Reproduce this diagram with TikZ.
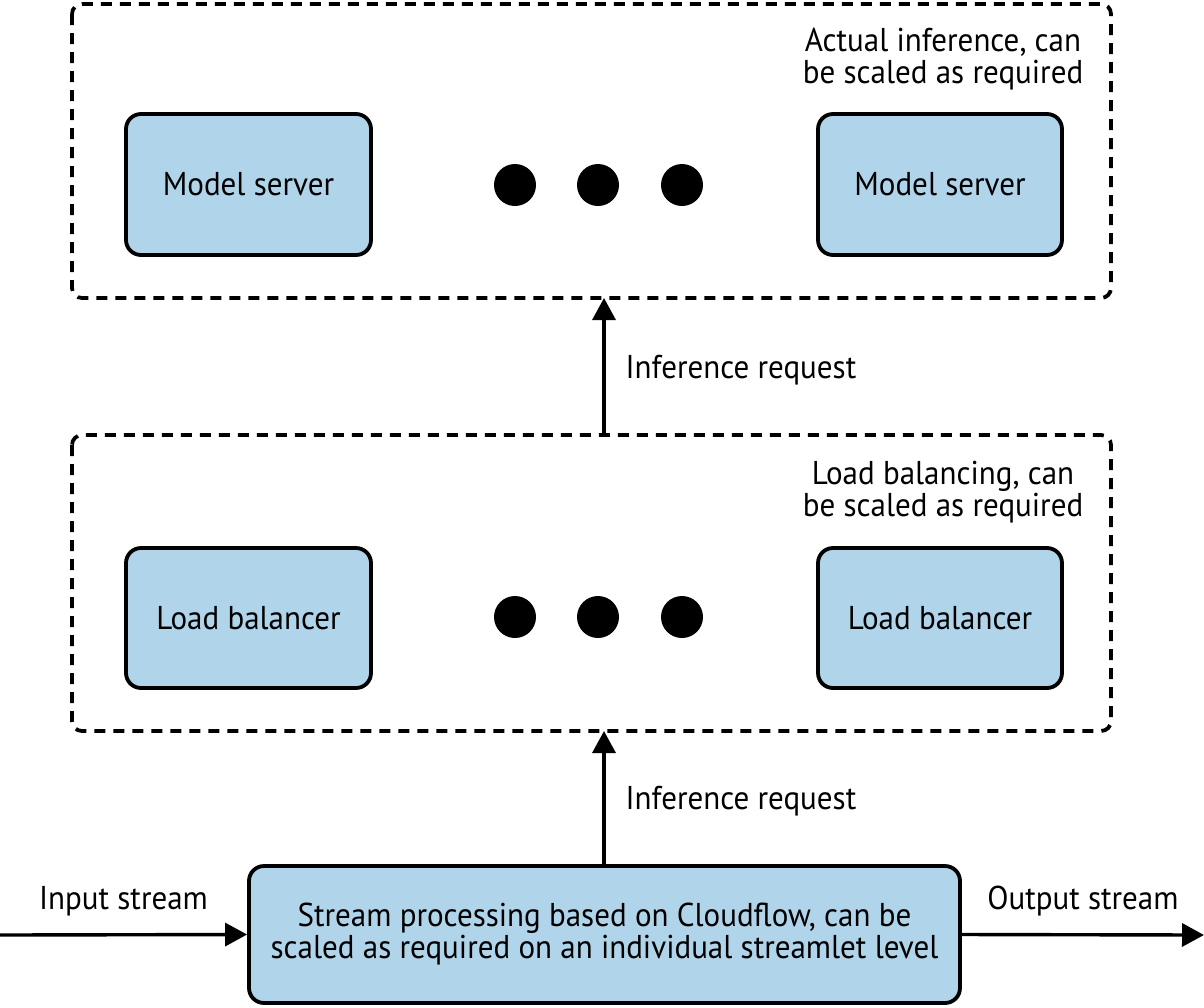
\documentclass[tikz,border=0pt]{standalone}
\usepackage{fontspec}
\setmainfont{PT Sans}[FakeStretch=0.94]
\usetikzlibrary{arrows.meta}
\definecolor{boxblue}{RGB}{176,212,234}
\begin{document}
\begin{tikzpicture}[x=1pt,y=-1pt,
  every node/.style={font=\fontsize{33}{32}\selectfont, inner sep=0pt},
  group/.style={draw, line width=3.8pt, dash pattern=on 11pt off 8pt, rounded corners=10pt},
  comp/.style={draw, line width=3.8pt, fill=boxblue, rounded corners=15pt, align=center},
  dot/.style={fill=black, circle, minimum size=42pt, inner sep=0pt},
  flow/.style={line width=3.4pt, -{Triangle[length=22pt,width=23pt]}},
  lbl/.style={align=center}
]
\path[use as bounding box] (0,0) rectangle (1204,1007);
% top group
\draw[group] (72,4) rectangle (1111,298);
\node[comp, minimum width=245pt, minimum height=141pt] (ms1) at (248.5,184.5) {Model server};
\node[comp, minimum width=244pt, minimum height=141pt] (ms2) at (940,184.5) {Model server};
\node[dot] (d1) at (515,185) {};
\node[dot] (d2) at (598,185) {};
\node[dot] (d3) at (682,185) {};
\node[lbl] (tl) at (943,59) {Actual inference, can\\be scaled as required};
\coordinate (topb) at (604,298);
% middle group
\draw[group] (72,435) rectangle (1111,731);
\node[comp, minimum width=245pt, minimum height=140pt] (lb1) at (248.5,618) {Load balancer};
\node[comp, minimum width=244pt, minimum height=140pt] (lb2) at (940,618) {Load balancer};
\node[dot] (e1) at (515,617) {};
\node[dot] (e2) at (598,617) {};
\node[dot] (e3) at (682,617) {};
\node[lbl] (ml) at (943,492) {Load balancing, can\\be scaled as required};
\coordinate (midt) at (604,435);
\coordinate (midb) at (604,731);
% bottom
\node[comp, minimum width=711pt, minimum height=137pt] (sp) at (604.5,934.5) {Stream processing based on Cloudflow, can be\\scaled as required on an individual streamlet level};
\coordinate (in) at (0,935);
\coordinate (out) at (1204,935);
\draw[flow] (midt) -- (topb) node[pos=0.5, right=20pt, yshift=-4pt] {Inference request};
\draw[flow] (sp.north -| midb) -- (midb) node[pos=0.5, right=20pt, yshift=-4pt] {Inference request};
\draw[flow] (in) -- (sp.west) node[pos=0.5, above=17pt] {Input stream};
\draw[flow] (sp.east) -- (out) node[pos=0.5, above=17pt] {Output stream};
\end{tikzpicture}
\end{document}
